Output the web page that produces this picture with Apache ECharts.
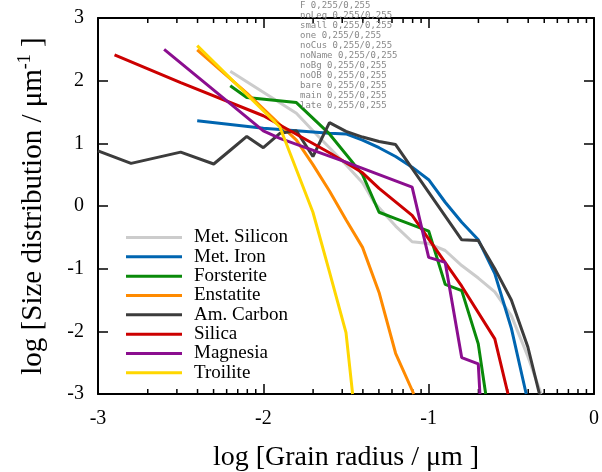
<!DOCTYPE html>
<html>
<head>
<meta charset="utf-8">
<script src="https://cdn.jsdelivr.net/npm/echarts@6/dist/echarts.min.js"></script>
<style>html,body{margin:0;padding:0;background:#fff}#c{width:602px;height:472px;position:relative}
#dbg{position:absolute;left:300px;top:0;font:9px monospace;color:#888;white-space:pre}</style>
</head>
<body>
<div id="c"></div>
<div id="dbg"></div>
<script>
// ---- data ----
const seriesNames = ['Met. Silicon','Met. Iron','Forsterite','Enstatite','Am. Carbon','Silica','Magnesia','Troilite'];
const seriesColors = ['#cccccc','#0065b0','#0a8a0a','#ff8a00','#3c3c3c','#cc0000','#8b0e8f','#ffd700'];

const metSilicon = [[-2.2,2.15],[-1.8,1.48],[-1.7,1.2],[-1.6,0.93],[-1.5,0.66],[-1.4,0.37],[-1.33,0.06],[-1.2,-0.32],[-1.1,-0.57],[-1.0,-0.6],[-0.9,-0.71],[-0.8,-0.95],[-0.7,-1.15],[-0.6,-1.37],[-0.5,-1.75],[-0.4,-2.4],[-0.34,-2.85],[-0.32,-3]];
const metIron = [[-2.4,1.36],[-2.0,1.24],[-1.6,1.16],[-1.5,1.15],[-1.4,1.05],[-1.3,0.93],[-1.2,0.79],[-1.1,0.62],[-1.0,0.42],[-0.9,0.06],[-0.8,-0.26],[-0.7,-0.54],[-0.6,-1.08],[-0.5,-1.95],[-0.41,-3]];
const forsterite = [[-2.2,1.92],[-2.1,1.73],[-1.8,1.65],[-1.6,1.15],[-1.4,0.5],[-1.3,-0.1],[-1.2,-0.2],[-1.1,-0.3],[-1.0,-0.4],[-0.9,-1.25],[-0.8,-1.35],[-0.7,-2.2],[-0.655,-3]];
const enstatite = [[-2.4,2.49],[-2.1,1.8],[-1.9,1.3],[-1.8,1.05],[-1.7,0.66],[-1.6,0.24],[-1.5,-0.22],[-1.4,-0.66],[-1.3,-1.38],[-1.2,-2.35],[-1.09,-3]];
const amCarbon = [[-3.0,0.88],[-2.8,0.68],[-2.5,0.86],[-2.3,0.67],[-2.2,0.89],[-2.1,1.11],[-2.0,0.93],[-1.9,1.16],[-1.8,1.2],[-1.7,0.79],[-1.6,1.33],[-1.5,1.19],[-1.4,1.1],[-1.3,1.03],[-1.2,0.98],[-0.8,-0.54],[-0.7,-0.55],[-0.6,-1.0],[-0.5,-1.5],[-0.4,-2.25],[-0.33,-3]];
const silica = [[-2.9,2.41],[-2.5,1.97],[-2.0,1.44],[-1.6,0.85],[-1.4,0.53],[-1.3,0.28],[-1.1,-0.15],[-0.8,-1.28],[-0.6,-2.12],[-0.52,-3]];
const magnesia = [[-2.6,2.5],[-2.0,1.2],[-1.9,1.08],[-1.5,0.7],[-1.1,0.3],[-1.0,-0.82],[-0.9,-0.9],[-0.8,-2.42],[-0.7,-2.52],[-0.69,-3]];
const troilite = [[-2.4,2.56],[-1.9,1.26],[-1.7,-0.1],[-1.6,-1.05],[-1.5,-2.02],[-1.46,-3]];

const xTickValues = [-3,-2,-1,0];
const yTickValues = [-3,-2,-1,0,1,2,3];
const xMinorTicks = [];
[-3,-2,-1].forEach(d => { for (let k = 2; k <= 9; k++) xMinorTicks.push(+(d + Math.log10(k)).toFixed(4)); });

const allData = [metSilicon, metIron, forsterite, enstatite, amCarbon, silica, magnesia, troilite];

const FONT = '"Liberation Serif", "Times New Roman", serif';
const BLK = '#000000';

function build(f) {
  f = f || {};
  const fs = (n) => f.small ? 11 : n;
  const axLine = () => ({show: true, onZero: false, lineStyle: {color: BLK, width: 2}});
  const tickMaj = () => ({show: true, inside: true, length: 10, lineStyle: {color: BLK, width: 1.5}});
  const baseX = () => ({type: 'value', min: -3, max: 0, interval: 1, splitLine: {show: false}});
  function xTickSeries(values, len) {
    return {
      type: 'custom', clip: false, silent: true, z: 3,
      data: values.map(v => [v, -3]),
      renderItem: function (params, api) {
        const pb = api.coord([api.value(0), -3]);
        const pt = api.coord([api.value(0), 3]);
        return {type: 'group', children: [
          {type: 'rect', shape: {x: pb[0] - 0.75, y: pb[1] - len, width: 1.5, height: len}, style: {fill: BLK}},
          {type: 'rect', shape: {x: pt[0] - 0.75, y: pt[1], width: 1.5, height: len}, style: {fill: BLK}}
        ]};
      }
    };
  }
  const o = {
    animation: false,
    grid: {left: 98, right: 8, top: 18, bottom: 78},
    xAxis: [
      Object.assign(baseX(), {
        position: 'bottom', axisLine: axLine(), axisTick: tickMaj(),
        axisLabel: {show: true, margin: 15, fontFamily: FONT, fontSize: fs(20), color: BLK}
      }),
      Object.assign(baseX(), {position: 'top', axisLine: axLine(), axisTick: tickMaj(), axisLabel: {show: false}})
    ],
    yAxis: [
      {
        type: 'value', min: -3, max: 3, interval: 1, position: 'left',
        splitLine: {show: false}, axisLine: axLine(), axisTick: tickMaj(),
        axisLabel: {margin: 14, fontFamily: FONT, fontSize: fs(20), color: BLK}
      },
      {
        type: 'value', min: -3, max: 3, interval: 1, position: 'right',
        splitLine: {show: false}, axisLine: axLine(), axisTick: tickMaj(), axisLabel: {show: false}
      }
    ],
    series: []
  };
  if (!f.noOB) o.grid.outerBoundsMode = 'none';
  if (!f.noBg) o.backgroundColor = '#fff';
  if (!f.noName) {
    Object.assign(o.xAxis[0], {name: 'log [Grain radius / μm ]', nameLocation: 'middle', nameGap: 50,
      nameTextStyle: {fontFamily: FONT, fontSize: fs(28), lineHeight: fs(28), color: BLK}});
    Object.assign(o.yAxis[0], {name: 'log [Size distribution / μm{sup|-1} ]', nameLocation: 'middle', nameGap: 48,
      nameTextStyle: {fontFamily: FONT, fontSize: fs(29), color: BLK, lineHeight: 34,
        rich: {sup: {fontFamily: FONT, fontSize: 18, lineHeight: 18, verticalAlign: 'top', color: BLK}}}});
  }
  if (!f.noLegend) o.legend = {
    orient: 'vertical', left: 126, top: 228, padding: 0,
    itemWidth: 56, itemHeight: 3, itemGap: 0.33, icon: 'rect',
    data: seriesNames,
    textStyle: {fontFamily: FONT, fontSize: fs(19), color: BLK, lineHeight: 19, padding: [0, 0, 0, 7]}
  };
  const idx = f.one ? [5] : [0,1,2,3,4,5,6,7];
  idx.forEach(i => o.series.push({
    name: seriesNames[i], type: 'line', data: allData[i], showSymbol: false,
    lineStyle: {color: seriesColors[i], width: 3}, itemStyle: {color: seriesColors[i]}
  }));
  if (!f.noCustom) o.series.push(xTickSeries(xMinorTicks, 5));
  return o;
}

function probe(ch) {
  const cv = ch.getDom().querySelector('canvas');
  if (!cv) return 'nc';
  const ctx = cv.getContext('2d');
  const a = ctx.getImageData(98, 300, 1, 1).data;
  const b = ctx.getImageData(400, 18, 1, 1).data;
  return a[0] + ',' + a[3] + '/' + b[0] + ',' + b[3];
}

const variants = [['F', {}], ['noLeg', {noLegend: true}], ['small', {small: true}], ['one', {one: true}],
  ['noCus', {noCustom: true}], ['noName', {noName: true}], ['noBg', {noBg: true}], ['noOB', {noOB: true}],
  ['bare', {noLegend: true, small: true, one: true, noCustom: true, noName: true}]];
let out = '';
variants.forEach(([n, f]) => {
  const d = document.createElement('div');
  d.style.cssText = 'position:absolute;left:-3000px;top:0;width:602px;height:472px';
  document.body.appendChild(d);
  let r;
  try { const ch = echarts.init(d); ch.setOption(build(f)); r = probe(ch); } catch (e) { r = 'ERR ' + e.message; }
  out += n + ' ' + r + '\n';
});
const main = echarts.init(document.getElementById('c'));
try { main.setOption(build({})); out += 'main ' + probe(main) + '\n'; } catch (e) { out += 'mainERR ' + e.message + '\n'; }
window.addEventListener('error', e => { document.getElementById('dbg').textContent += 'winerr ' + e.message + '\n'; });
document.getElementById('dbg').textContent = out;
setTimeout(() => { document.getElementById('dbg').textContent += 'late ' + probe(main) + '\n'; }, 300);
</script>
</body>
</html>
